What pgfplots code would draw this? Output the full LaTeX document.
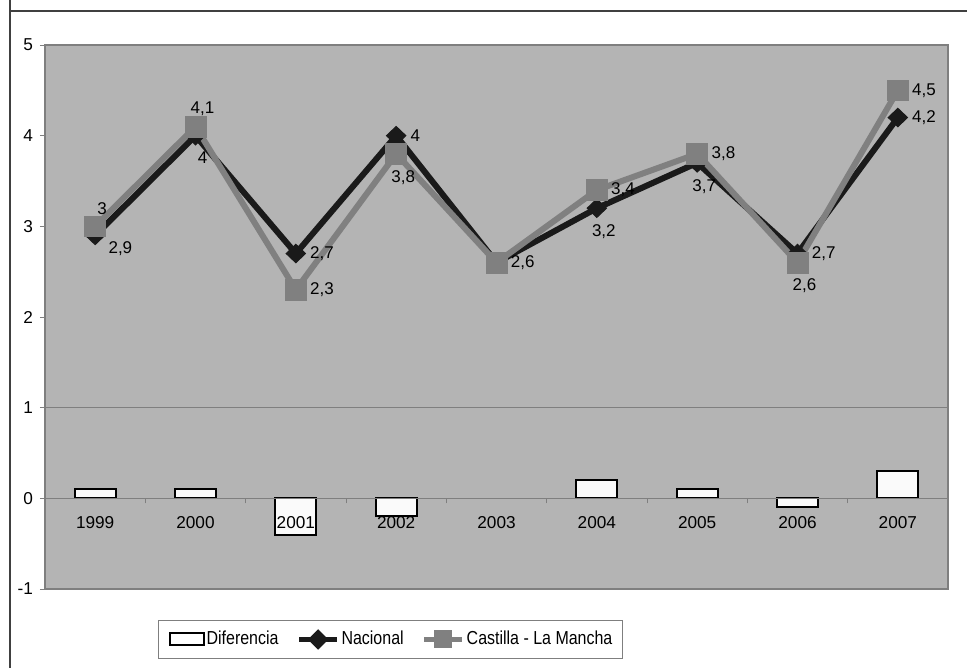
\documentclass[border=0pt]{standalone}
\usepackage{pgfplots}
\pgfplotsset{compat=1.18}
\usepackage{fontspec}
\setmainfont{Liberation Sans}
\newfontfamily\legfont[FakeStretch=0.85]{Liberation Sans}
\definecolor{bg}{HTML}{B4B4B4}
\definecolor{clm}{HTML}{808080}
\definecolor{nac}{HTML}{1A1A1A}
\definecolor{frame}{HTML}{7F7F7F}
\begin{document}
\begin{tikzpicture}[x=1pt,y=1pt]
\useasboundingbox (0,0) rectangle (483.5,334);
\draw[line width=1pt,color=black!75] (5,334) -- (5,0);
\draw[line width=1pt,color=black!75] (5,328.5) -- (483.5,328.5);
\begin{axis}[
  at={(22.5pt,39.5pt)}, anchor=south west,
  width=451.5pt, height=272pt, scale only axis,
  xmin=0.5, xmax=9.5, ymin=-1, ymax=5,
  axis on top,
  axis x line=middle, axis y line=left,
  axis line style={-, draw=frame, line width=0.6pt},
  axis background/.style={fill=bg, draw=frame, line width=1pt},
  xtick={1,...,9},
  xticklabels={1999,2000,2001,2002,2003,2004,2005,2006,2007},
  major x tick style={draw=none},
  minor xtick={1.5,2.5,...,8.5},
  minor x tick style={draw=frame, line width=0.4pt},
  xtick align=outside, minor tick length=2.5pt,
  xticklabel style={yshift=-3pt},
  ytick={-1,0,...,5},
  ytick align=outside, major tick length=2.5pt,
  y tick style={draw=frame, line width=0.5pt},
  yticklabel style={xshift=0pt},
  /pgf/number format/assume math mode=true,
  tick label style={font=\fontsize{8.6}{10}\selectfont},
  clip=false,
  legend columns=3,
  legend style={at={(0.3826,-0.0928)}, anchor=center, draw=frame, fill=white,
    font=\legfont\fontsize{9.4}{10}\selectfont, inner xsep=5pt, inner ysep=3.5pt,
    nodes={inner xsep=0pt},
    /tikz/every even column/.append style={column sep=9pt},
    /tikz/every odd column/.append style={column sep=1pt}},
]
\draw[frame, line width=0.6pt] (axis cs:0.5,1) -- (axis cs:9.5,1);
\addplot[ybar, bar width=20.5pt, bar shift=0pt, fill=white!98!black, draw=black, line width=1pt,
  legend image code/.code={\draw[fill=white, draw=black, line width=1pt] (0pt,-3pt) rectangle (17pt,3pt);}]
  coordinates {(1,0.1) (2,0.1) (3,-0.4) (4,-0.2) (6,0.2) (7,0.1) (8,-0.1) (9,0.3)};
\addlegendentry{Diferencia}
\addplot[nac, line width=3pt, mark=diamond*, mark size=4.6pt, mark options={xscale=1.4, solid, line width=0.5pt},
  legend image code/.code={\draw[nac, line width=2.5pt] (0pt,0pt) -- (19pt,0pt);
     \fill[nac] (9.5pt,3pt) -- (12.5pt,0pt) -- (9.5pt,-3pt) -- (6.5pt,0pt) -- cycle;}]
  coordinates {(1,2.9) (2,4) (3,2.7) (4,4) (5,2.6) (6,3.2) (7,3.7) (8,2.7) (9,4.2)};
\addlegendentry{Nacional}
\addplot[clm, line width=3pt, mark=square*, mark size=5.2pt, mark options={solid, line width=0.3pt},
  legend image code/.code={\draw[clm, line width=2.5pt] (0pt,0pt) -- (19pt,0pt);
     \fill[clm] (6.5pt,-3pt) rectangle (12.5pt,3pt);}]
  coordinates {(1,3) (2,4.1) (3,2.3) (4,3.8) (5,2.6) (6,3.4) (7,3.8) (8,2.6) (9,4.5)};
\addlegendentry{Castilla - La Mancha}
% data labels
\tikzset{lbl/.style={font=\fontsize{8.5}{10}\selectfont, inner sep=0pt},
  lR/.style={lbl, anchor=west, xshift=7pt},
  lA/.style={lbl, anchor=south, xshift=3.5pt, yshift=5.5pt},
  lB/.style={lbl, anchor=north, xshift=3.5pt, yshift=-8pt}}
% Nacional
\node[lbl, anchor=north west, xshift=6.5pt, yshift=-3pt] at (axis cs:1,2.9) {2,9};
\node[lB] at (axis cs:2,4) {4};
\node[lR] at (axis cs:3,2.7) {2,7};
\node[lR] at (axis cs:4,4) {4};
\node[lB] at (axis cs:6,3.2) {3,2};
\node[lB] at (axis cs:7,3.7) {3,7};
\node[lR] at (axis cs:8,2.7) {2,7};
\node[lR] at (axis cs:9,4.2) {4,2};
% CLM
\node[lA] at (axis cs:1,3) {3};
\node[lA] at (axis cs:2,4.1) {4,1};
\node[lR] at (axis cs:3,2.3) {2,3};
\node[lB] at (axis cs:4,3.8) {3,8};
\node[lR] at (axis cs:5,2.6) {2,6};
\node[lR] at (axis cs:6,3.4) {3,4};
\node[lR] at (axis cs:7,3.8) {3,8};
\node[lB] at (axis cs:8,2.6) {2,6};
\node[lR] at (axis cs:9,4.5) {4,5};
\end{axis}
\end{tikzpicture}
\end{document}
